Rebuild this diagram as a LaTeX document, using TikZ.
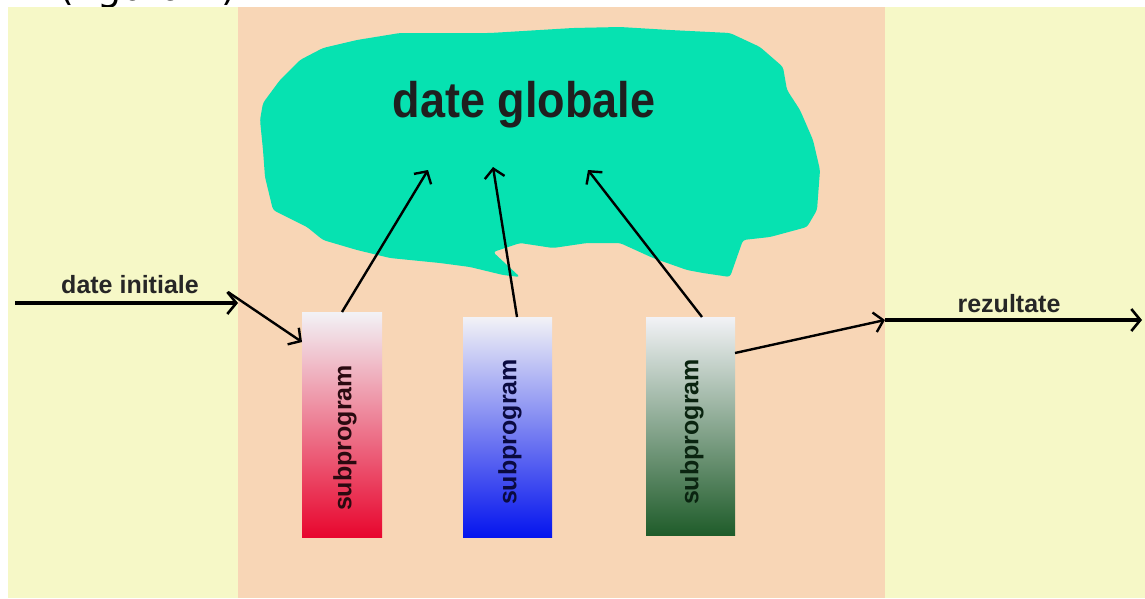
\documentclass[tikz,border=0pt]{standalone}
\usepackage{fontspec}
\setmainfont{Liberation Sans}
\newfontfamily\topfont{DejaVu Sans}
\usetikzlibrary{arrows.meta}
\definecolor{bgyellow}{HTML}{F6F8C7}
\definecolor{bgpeach}{HTML}{F8D6B6}
\definecolor{cloudgreen}{HTML}{06E2B1}
\definecolor{redbot}{HTML}{E8062E}
\definecolor{bluebot}{HTML}{0515EE}
\definecolor{greenbot}{HTML}{1F5C2A}
\definecolor{toplight}{HTML}{F2F2F6}
\definecolor{redtext}{HTML}{2A0A10}
\definecolor{bluetext}{HTML}{0A0A40}
\definecolor{greentext}{HTML}{0A2410}
\tikzset{
  subbox/.style={inner sep=0pt, outer sep=0pt, minimum height=225pt},
  sublabel/.style={rotate=90, font=\bfseries\fontsize{25}{25}\selectfont, inner sep=0pt},
  lbl/.style={font=\bfseries\fontsize{25}{25}\selectfont, inner sep=0pt, text=black!85},
  thinarrow/.style={line width=2.4pt, -{Straight Barb[length=9pt,width=20pt,line width=2.4pt]}},
  thickarrow/.style={line width=4.5pt, -{Straight Barb[length=9pt,width=22pt,line width=2.6pt]}},
}
\begin{document}
\begin{tikzpicture}[x=1pt,y=-1pt]
\useasboundingbox (0,0) rectangle (1145,598);
\fill[white] (0,0) rectangle (1145,598);
\node[font=\topfont\fontsize{38}{38}\selectfont, anchor=base west, inner sep=0pt] (fig) at (59,0.5) {(figura 2)};
\fill[bgyellow] (8,7) rectangle (1145,598);
\fill[bgpeach] (238,7) rectangle (885,598);
% cloud
\fill[cloudgreen, rounded corners=3pt]
  (300,60) -- (323,48) -- (357,40) -- (400,33) -- (440,33) -- (490,33) -- (573,28)
  -- (620,27) -- (670,30) -- (730,33) -- (760,47) -- (783,67) -- (787,90) -- (800,110)
  -- (813,140) -- (820,170) -- (817,210) -- (807,227) -- (770,237) -- (743,240)
  -- (730,277) -- (703,273) -- (687,270) -- (653,258) -- (620,243) -- (587,243)
  -- (553,248) -- (520,243) -- (493,252) -- (520,277) -- (503,275) -- (470,267)
  -- (440,263) -- (390,258) -- (357,250) -- (323,240) -- (307,227) -- (273,210)
  -- (265,177) -- (263,150) -- (260,120) -- (263,103) -- (280,80) -- cycle;
\node[font=\bfseries\fontsize{50}{50}\selectfont, anchor=base, inner sep=0pt, text=black!88] (glob) at (524,117) {\scalebox{0.9}[1]{date globale}};
\coordinate (c1) at (428,170);
\coordinate (c2) at (493,167);
\coordinate (c3) at (588,170);
% boxes
\node[subbox, minimum width=80pt, top color=toplight, bottom color=redbot] (red) at (342,424.5) {};
\node[subbox, minimum width=89pt, minimum height=220pt, top color=toplight, bottom color=bluebot] (blue) at (507.5,427) {};
\node[subbox, minimum width=89pt, minimum height=218pt, top color=toplight, bottom color=greenbot] (green) at (690.5,426) {};
\node[sublabel, text=redtext] (redl) at ([xshift=3pt,yshift=-13.5pt]red.center) {subprogram};
\node[sublabel, text=bluetext] (bluel) at ([xshift=2.5pt,yshift=-5pt]blue.center) {subprogram};
\node[sublabel, text=greentext] (greenl) at ([xshift=1.5pt,yshift=-6pt]green.center) {subprogram};
% labels
\node[lbl, anchor=base] (din) at (130,293) {date initiale};
\node[lbl, anchor=base] (rez) at (1009,312) {rezultate};
% connectors
\coordinate (in0) at (15,303);
\coordinate (in1) at (238,303);
\coordinate (inj) at (228,292);
\coordinate (out0) at (885,320);
\coordinate (out1) at (1142,320);
\draw[thinarrow] (red.north) -- (c1);
\draw[thinarrow] ([xshift=9.5pt]blue.north) -- (c2);
\draw[thinarrow] ([xshift=11.5pt]green.north) -- (c3);
\draw[thickarrow] (in0) -- (in1);
\draw[thinarrow] (inj) -- ([yshift=-30pt]red.north west);
\draw[thickarrow] (out0) -- (out1);
\draw[thinarrow] ([yshift=-36pt]green.north east) -- (out0);
\end{tikzpicture}
\end{document}
